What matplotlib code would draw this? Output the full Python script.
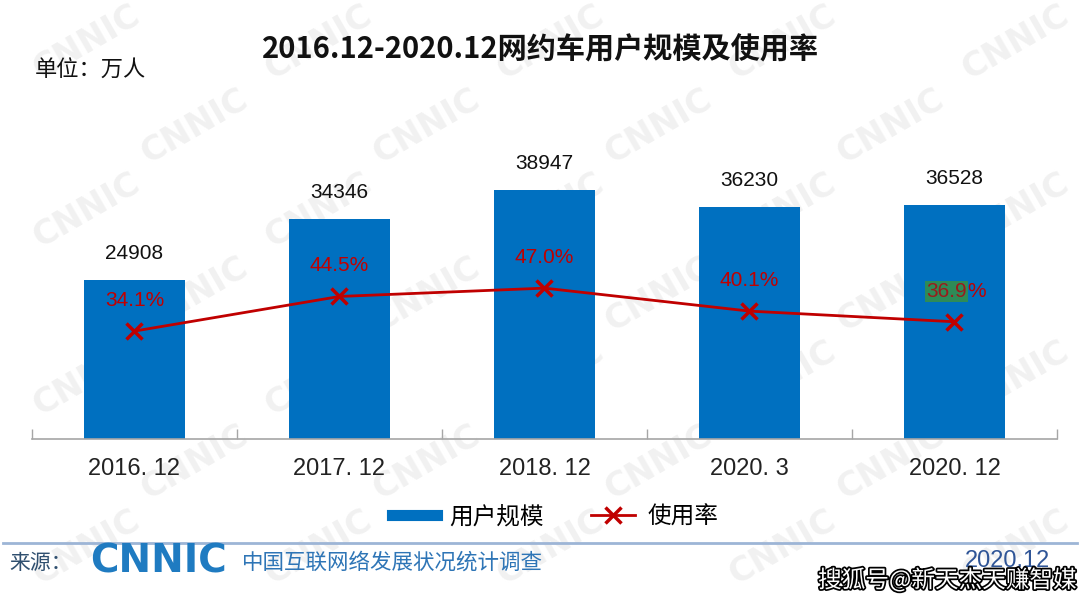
import matplotlib
matplotlib.use("Agg")
import matplotlib.pyplot as plt
from matplotlib.lines import Line2D
import matplotlib.patheffects as pe

plt.rcParams['font.family'] = ['Noto Sans CJK SC', 'DejaVu Sans']

# 数据
periods = ["2016. 12", "2017. 12", "2018. 12", "2020. 3", "2020. 12"]
users = [24908, 34346, 38947, 36230, 36528]      # 用户规模（万人）
usage_rate = [34.1, 44.5, 47.0, 40.1, 36.9]      # 使用率（%）

BLUE = "#0070C0"
RED = "#C00000"

fig = plt.figure(figsize=(10.8, 6.01), dpi=100)

# 背景水印 CNNIC（放在最底层）
bg = fig.add_axes([0, 0, 1, 1], zorder=-10)
bg.axis("off")
bg.set_xlim(0, 1)
bg.set_ylim(0, 1)
for row in range(7):
    for col in range(5):
        x = 0.08 + col * 0.215 + (row % 2) * 0.1
        y = 0.93 - row * 0.14
        if x > 0.95:
            continue
        bg.text(x, y, "CNNIC", fontsize=24, fontweight="bold", color="#F1F1F1",
                rotation=30, ha="center", va="center", family="DejaVu Sans")

ax = fig.add_axes([0.0296, 0.2696, 0.9491, 0.564])
ax.set_facecolor("none")
xs = list(range(len(periods)))
ax.bar(xs, users, width=0.49, color=BLUE, zorder=2)
ax.set_xlim(-0.5, 4.5)
ax.set_ylim(0, 53000)
for x, v in zip(xs, users):
    ax.annotate(f"{v}", (x, v), xytext=(0, 19), textcoords="offset points",
                ha="center", va="center", fontsize=15, family="Liberation Sans",
                color="#111111")

for s in ["top", "right", "left"]:
    ax.spines[s].set_visible(False)
ax.spines["bottom"].set_color("#A6A6A6")
ax.spines["bottom"].set_linewidth(1.2)
ax.set_yticks([])
ax.set_xticks(xs)
ax.set_xticklabels(periods, fontsize=17, family="Liberation Sans")
ax.tick_params(axis="x", length=0, pad=14, colors="#222222")
ax.set_xticks([x - 0.5 for x in xs] + [4.5], minor=True)
ax.tick_params(axis="x", which="minor", direction="in", length=7,
               color="#A6A6A6", width=1)

# 使用率折线
ax2 = ax.twinx()
ax2.set_ylim(1.7, 103.5)
ax2.axis("off")
ax2.plot(xs, usage_rate, color=RED, lw=2, marker="x", markersize=11,
         markeredgewidth=2.5, zorder=3)
for x, v in zip(xs[:-1], usage_rate[:-1]):
    ax2.annotate(f"{v:.1f}%", (x, v), xytext=(0, 22), textcoords="offset points",
                 ha="center", va="center", fontsize=15, family="Liberation Sans",
                 color=RED)
# 最后一个标签（原图带绿色底）
lx, lv = xs[-1], usage_rate[-1]
lab = f"{lv:.1f}%"
ax2.annotate(lab[:-1], (lx, lv), xytext=(9, 22), textcoords="offset points",
             ha="right", va="center", fontsize=15, family="Liberation Sans",
             color="#9B1B1B",
             bbox=dict(boxstyle="square,pad=0.05", fc="#2E8B57", ec="none"))
ax2.annotate(lab[-1], (lx, lv), xytext=(9, 22), textcoords="offset points",
             ha="left", va="center", fontsize=15, family="Liberation Sans",
             color=RED)

# 标题
fig.text(0.5, 0.918, "2016.12-2020.12网约车用户规模及使用率", ha="center",
         va="center", fontsize=21, fontweight="bold", color="#111111")
fig.text(0.032, 0.883, "单位：万人", ha="left", va="center", fontsize=16,
         color="#111111")

# 图例
handles = [Line2D([], [], color=BLUE, lw=8),
           Line2D([], [], color=RED, lw=2, marker="x", markersize=11,
                  markeredgewidth=2.5)]
fig.legend(handles, ["用户规模", "使用率"], loc="center", ncol=2,
           bbox_to_anchor=(0.514, 0.14), frameon=False, fontsize=17,
           handlelength=1.9, columnspacing=2.0, handletextpad=0.5)

# 底部来源
fig.add_artist(Line2D([0.003, 0.997], [0.097, 0.097], color="#9DB5D6", lw=2))
fig.text(0.009, 0.063, "来源：", ha="left", va="center", fontsize=15,
         color="#2F4F6F")
fig.text(0.083, 0.066, "CNNIC", ha="left", va="center", fontsize=28,
         fontweight="heavy", color="#1F7BC1", family="DejaVu Sans")
fig.text(0.224, 0.063, "中国互联网络发展状况统计调查", ha="left", va="center",
         fontsize=15.5, color="#2E75B6")
fig.text(0.972, 0.066, "2020.12", ha="right", va="center", fontsize=17,
         color="#2F5597", family="Liberation Sans")
fig.text(0.997, 0.035, "搜狐号@新天杰天赚智媒", ha="right", va="center",
         fontsize=17, color="white",
         path_effects=[pe.withStroke(linewidth=2.5, foreground="black")])

fig.savefig("out.png", dpi=100)
